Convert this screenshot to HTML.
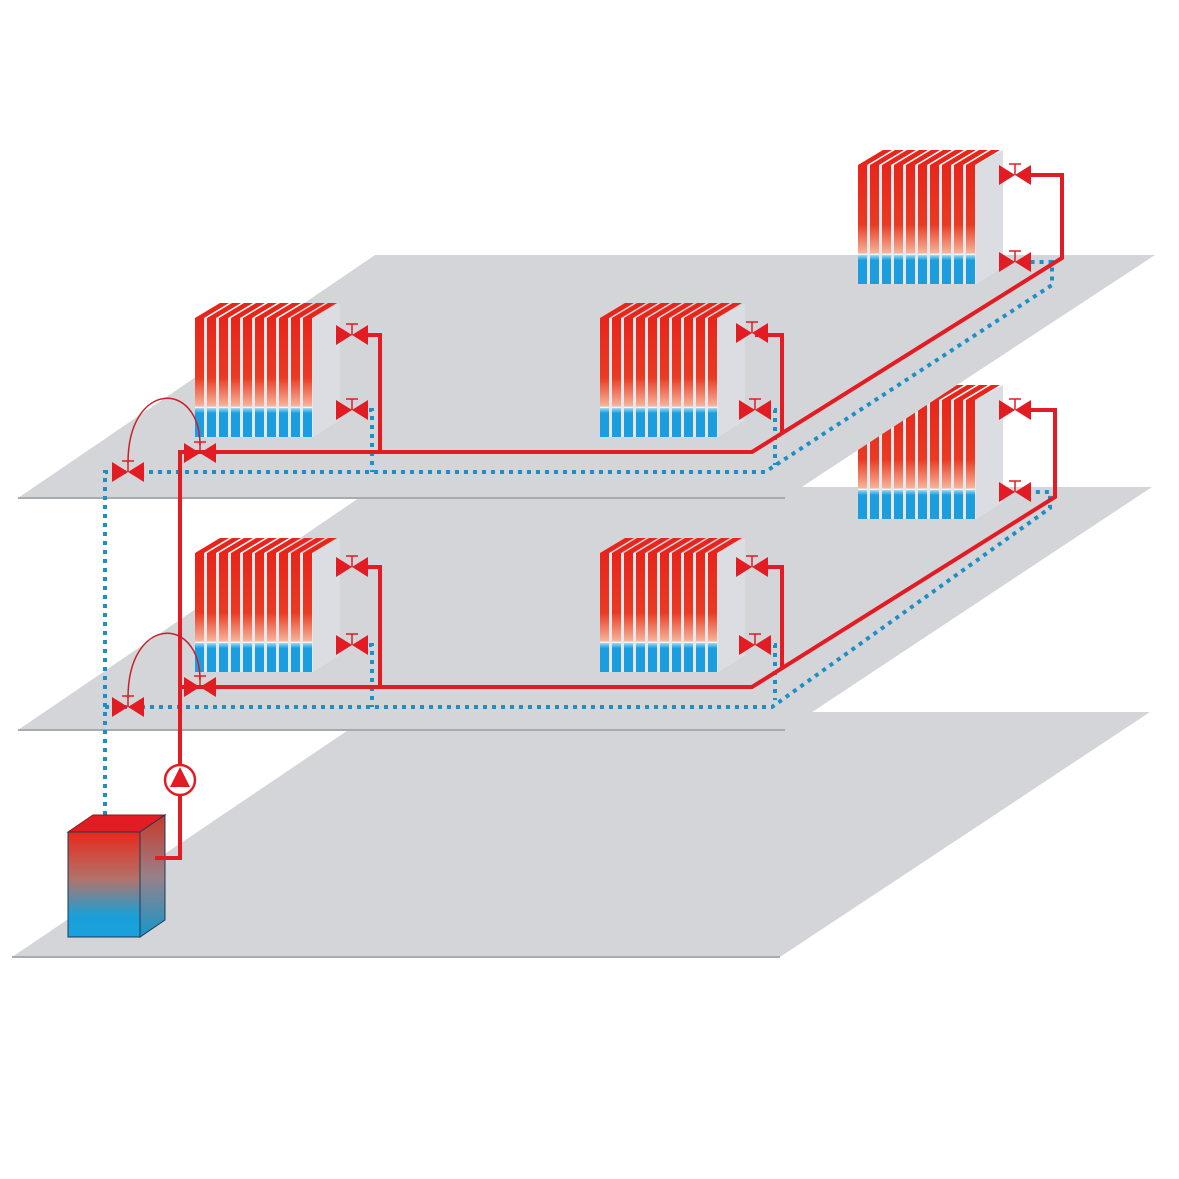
<!DOCTYPE html>
<html><head><meta charset="utf-8"><style>html,body{margin:0;padding:0;background:#fff}svg{display:block}</style></head>
<body>
<svg width="1179" height="1179" viewBox="0 0 1179 1179" xmlns="http://www.w3.org/2000/svg">
<defs>
<linearGradient id="fin" x1="0" y1="0" x2="0" y2="1">
<stop offset="0" stop-color="#e8251b"/><stop offset="0.5" stop-color="#ea3a22"/><stop offset="0.74" stop-color="#f6b49a"/><stop offset="0.75" stop-color="#ffffff"/><stop offset="0.76" stop-color="#8fd3f2"/><stop offset="0.8" stop-color="#1a9ee0"/><stop offset="1" stop-color="#1a9ee0"/>
</linearGradient>
<linearGradient id="boil" x1="0" y1="0" x2="0" y2="1">
<stop offset="0" stop-color="#e8281c"/><stop offset="0.45" stop-color="#b2736a"/><stop offset="0.8" stop-color="#19a0d8"/><stop offset="1" stop-color="#1aa0dc"/>
</linearGradient>
<linearGradient id="boils" x1="0" y1="0" x2="0" y2="1">
<stop offset="0" stop-color="#c8392a"/><stop offset="0.5" stop-color="#998088"/><stop offset="1" stop-color="#1596cc"/>
</linearGradient>
<g id="rad">
<polygon points="0,0 118,0 145,-15 145,102 118,119 0,119" fill="#e7e8ec"/>
<polygon points="118,0 145,-15 145,102 118,119" fill="#dcdde2"/>
<g>
<g id="f">
<polygon points="0,0 9,0 34,-15 25,-15" fill="#e8251b"/>
<rect x="0" y="0" width="9" height="119" fill="url(#fin)"/>
</g>
<use href="#f" x="12"/><use href="#f" x="24"/><use href="#f" x="36"/><use href="#f" x="48"/>
<use href="#f" x="60"/><use href="#f" x="72"/><use href="#f" x="84"/><use href="#f" x="96"/><use href="#f" x="108"/>
</g>
</g>
<g id="v">
<polygon points="-16,-10 0,0 -16,10" fill="#e31b23"/>
<polygon points="16,-10 0,0 16,10" fill="#e31b23"/>
<line x1="0" y1="0" x2="0" y2="-11" stroke="#e31b23" stroke-width="1.5"/>
<line x1="-6" y1="-11" x2="6" y2="-11" stroke="#e31b23" stroke-width="1.5"/>
</g>
</defs>

<polygon points="375,712 1150,712 780,957 12,957" fill="#d4d5d9"/>
<line x1="12" y1="957" x2="780" y2="957" stroke="#a9aaae" stroke-width="2"/>
<polygon points="375,487 1152,487 785,730 18,730" fill="#d4d5d9"/>
<line x1="18" y1="730" x2="785" y2="730" stroke="#a9aaae" stroke-width="2"/>
<use href="#rad" x="858" y="400"/>
<polygon points="375,255 1155,255 785,498 18,498" fill="#d4d5d9"/>
<line x1="18" y1="498" x2="785" y2="498" stroke="#a9aaae" stroke-width="2"/>

<use href="#rad" x="195" y="318"/>
<use href="#rad" x="600" y="318"/>
<use href="#rad" x="858" y="165"/>
<use href="#rad" x="195" y="553"/>
<use href="#rad" x="600" y="553"/>

<g fill="none" stroke="#1b8fc6" stroke-width="4" stroke-dasharray="4,5">
<path d="M105,815 L105,472 L765,472 L1052,285 L1052,262 L1028,262"/>
<path d="M360,410 L372,410 L372,472"/>
<path d="M765,410 L775,410 L775,465"/>
<path d="M105,707 L772,707 L1050,508 L1050,492 L1028,492"/>
<path d="M360,645 L372,645 L372,707"/>
<path d="M765,645 L775,645 L775,700"/>
</g>

<g fill="none" stroke="#e31b23" stroke-width="4">
<path d="M155,858 L180,858 L180,452 L752,452 L1062,258 L1062,175 L1020,175"/>
<path d="M355,335 L380,335 L380,452"/>
<path d="M755,335 L782,335 L782,432"/>
<path d="M180,687 L752,687 L1055,497 L1055,410 L1020,410"/>
<path d="M355,567 L380,567 L380,687"/>
<path d="M755,567 L782,567 L782,667"/>
</g>
<g fill="none" stroke="#c8202a" stroke-width="1.5">
<path d="M128,463 C128,380 200,380 200,445"/>
<path d="M128,698 C128,615 200,615 200,680"/>
</g>

<use href="#v" x="352" y="335"/><use href="#v" x="352" y="410"/>
<use href="#v" x="752" y="333"/><use href="#v" x="755" y="410"/>
<use href="#v" x="1015" y="175"/><use href="#v" x="1015" y="262"/>
<use href="#v" x="352" y="567"/><use href="#v" x="352" y="645"/>
<use href="#v" x="752" y="567"/><use href="#v" x="755" y="645"/>
<use href="#v" x="1015" y="410"/><use href="#v" x="1015" y="492"/>
<use href="#v" x="128" y="472"/><use href="#v" x="200" y="453"/>
<use href="#v" x="128" y="707"/><use href="#v" x="200" y="687"/>

<circle cx="180" cy="780" r="15" fill="#fff" stroke="#e31b23" stroke-width="2.5"/>
<polygon points="180,767 170,787 190,787" fill="#e31b23"/>

<polygon points="68,832 93,815 165,815 140,832" fill="#e31b23" stroke="#8a1a1a" stroke-width="1"/>
<polygon points="140,832 165,815 165,920 140,937" fill="url(#boils)" stroke="#1c3a55" stroke-width="1"/>
<rect x="68" y="832" width="72" height="105" fill="url(#boil)" stroke="#1c3a55" stroke-width="1"/>
<line x1="155" y1="858" x2="180" y2="858" stroke="#e31b23" stroke-width="4"/>
</svg>
</body></html>
